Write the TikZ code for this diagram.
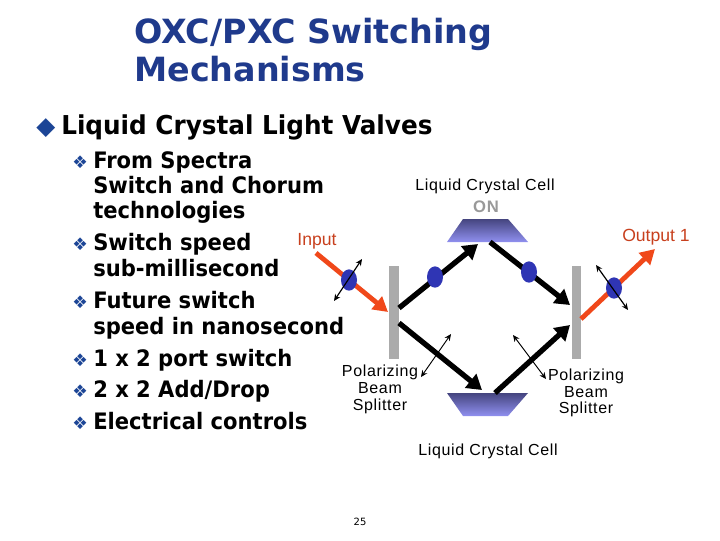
\documentclass[tikz,border=0pt]{standalone}
\usepackage{fontspec}
\setmainfont{DejaVu Sans}
\newfontfamily\lib[LetterSpace=4]{Liberation Sans}
\newfontfamily\libplain{Liberation Sans}
\newfontfamily\nbh[FakeStretch=0.95]{DejaVu Sans}
\newfontfamily\nbi[FakeStretch=0.93]{DejaVu Sans}
\usetikzlibrary{arrows.meta,shapes.geometric}
\definecolor{navy}{HTML}{1F3A8C}
\definecolor{bulletblue}{HTML}{1C4596}
\definecolor{beamred}{HTML}{F0481A}
\definecolor{labelred}{HTML}{C8401E}
\definecolor{dotblue}{HTML}{2F35B4}
\definecolor{trapdark}{HTML}{45457F}
\definecolor{traplight}{HTML}{9090F0}
\definecolor{splitgray}{HTML}{ABABAB}
\tikzset{
 x=0.75pt,y=-0.75pt,
 titletext/.style={anchor=base west,inner sep=0,text=navy,font=\fontsize{25pt}{25pt}\selectfont\bfseries},
 headtext/.style={anchor=base west,inner sep=0,font=\nbh\fontsize{19.5pt}{20pt}\selectfont\bfseries},
 itemtext/.style={anchor=base west,inner sep=0,font=\nbi\fontsize{17pt}{17pt}\selectfont\bfseries},
 bigbullet/.style={anchor=base west,inner sep=0,text=bulletblue,font=\fontsize{18.5pt}{18pt}\selectfont},
 smallbullet/.style={anchor=base west,inner sep=0,text=bulletblue,font=\fontsize{13pt}{13pt}\selectfont},
 smalllabel/.style={inner sep=0,align=center,font=\lib\fontsize{12pt}{12.6pt}\selectfont},
 redlabel/.style={inner sep=0,text=labelred,font=\libplain\fontsize{13.2pt}{13pt}\selectfont},
 splitter/.style={fill=splitgray,draw=none},
 trap/.style={top color=trapdark,bottom color=traplight,draw=none},
 redbeam/.style={draw=beamred,line width=3.6pt,-{Triangle[length=11pt,width=12pt]}},
 blackbeam/.style={draw=black,line width=4pt,-{Triangle[length=11pt,width=13pt]}},
 poldot/.style={ellipse,minimum width=12pt,minimum height=16pt,inner sep=0,fill=dotblue,draw=none},
 polarrow/.style={draw=black,line width=0.9pt,{Stealth[length=5pt,width=4.5pt]}-{Stealth[length=5pt,width=4.5pt]}},
 leader/.style={draw=black,line width=0.7pt,{Stealth[length=5pt,width=4.5pt]}-{Stealth[length=5pt,width=4.5pt]}},
}
\begin{document}
\begin{tikzpicture}
\useasboundingbox (0,0) rectangle (720,540);
\fill[white] (0,0) rectangle (720,540);
% text
\node[titletext] (t1) at (134,43) {OXC/PXC Switching};
\node[titletext] (t2) at (134,81) {Mechanisms};
\node[bigbullet] (b0) at (36,134) {◆};
\node[headtext] (h0) at (61,134) {Liquid Crystal Light Valves};
\foreach \n/\y in {1/168,2/250,3/308,4/366,5/397,6/429}{
  \node[smallbullet] (bu\n) at (72,\y) {❖};
}
\node[itemtext] (i1a) at (93,168) {From Spectra};
\node[itemtext] (i1b) at (93,193) {Switch and Chorum};
\node[itemtext] (i1c) at (93,218) {technologies};
\node[itemtext] (i2a) at (93,250) {Switch speed};
\node[itemtext] (i2b) at (93,276) {sub-millisecond};
\node[itemtext] (i3a) at (93,308) {Future switch};
\node[itemtext] (i3b) at (93,334) {speed in nanosecond};
\node[itemtext] (i4) at (93,366) {1 x 2 port switch};
\node[itemtext] (i5) at (93,397) {2 x 2 Add/Drop};
\node[itemtext] (i6) at (93,429) {Electrical controls};
% coordinates
\foreach \nm/\x/\y in {ina/316/253,inb/388/312,outa/581/319,outb/655/249,
 ua/399/308,ub/478/244,va/490/242,vb/570/305,wa/399/323,wb/482/390,xa/495/393,xb/570/325,
 pa/362/259,pb/334/301,qa/596/265,qb/628/310,ra/451/334,rb/421/377,sa/513/335,sb/546/379}
  {\coordinate (\nm) at (\x,\y);}
% splitters and cells
\path[splitter] (389,266) rectangle (399,359);
\path[splitter] (572,266) rectangle (581,359);
\path[trap] (463,219) -- (508,219) -- (528,242) -- (447,242) -- cycle;
\path[trap] (447,393) -- (528,393) -- (508,416) -- (463,416) -- cycle;
% beams
\draw[redbeam] (ina) -- (inb);
\draw[redbeam] (outa) -- (outb);
\draw[blackbeam] (ua) -- (ub);
\draw[blackbeam] (va) -- (vb);
\draw[blackbeam] (wa) -- (wb);
\draw[blackbeam] (xa) -- (xb);
% polarisation marks
\node[poldot] (d1) at (349,280) {};
\node[poldot] (d2) at (435,277) {};
\node[poldot] (d3) at (529,272) {};
\node[poldot] (d4) at (614,288) {};
\draw[polarrow] (pa) -- (pb);
\draw[polarrow] (qa) -- (qb);
% labels
\node[smalllabel] (lc1) at (485,186) {Liquid Crystal Cell};
\node[inner sep=0,text=gray!80,font=\lib\fontsize{12.5pt}{12pt}\selectfont\bfseries] (on) at (486,207) {ON};
\node[smalllabel] (lc2) at (488,451) {Liquid Crystal Cell};
\node[redlabel] (inp) at (317,241) {Input};
\node[redlabel] (outp) at (656,237) {Output 1};
\node[smalllabel] (p1) at (380,389.5) {Polarizing\\Beam\\Splitter};
\node[smalllabel] (p2) at (586,393) {Polarizing\\Beam\\Splitter};
\draw[leader] (ra) -- (rb);
\draw[leader] (sa) -- (sb);
\node[inner sep=0,font=\fontsize{7.5pt}{8pt}\selectfont] (pg) at (360,522) {25};
\end{tikzpicture}
\end{document}
